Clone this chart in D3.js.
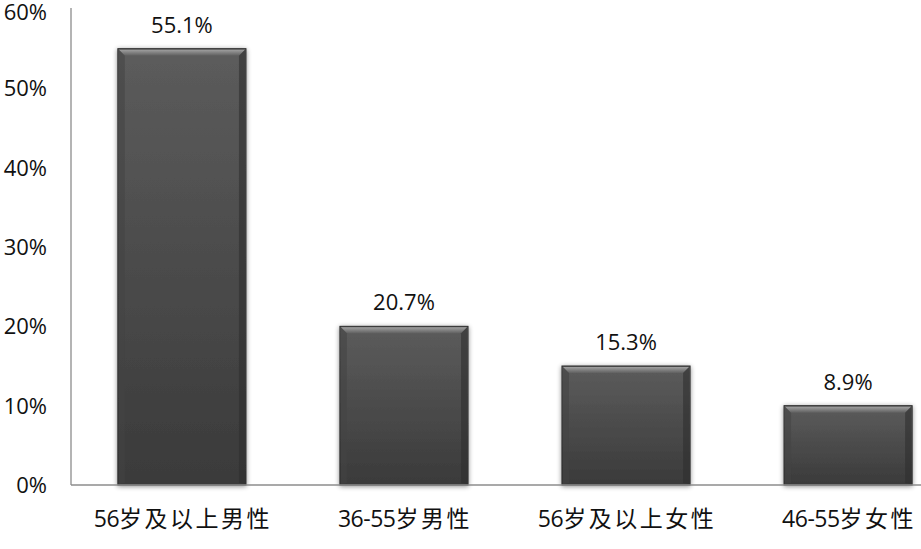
<!doctype html>
<html>
<head>
<meta charset="utf-8">
<title>Bar chart</title>
<style>
    html, body { margin: 0; padding: 0; background: #fff; }
    svg { display: block; }
    text { font-family: "Open Sans", "Noto Sans CJK SC", sans-serif; fill: #111; }
</style>
</head>
<body>
<script src="https://d3js.org/d3.v7.min.js"></script>
<script>

    // --- data ---
    var categories = ['56岁及以上男性', '36-55岁男性', '56岁及以上女性', '46-55岁女性'];
    var barHeights = [55, 20, 15, 10];              // drawn height of each bar (%)
    var valueLabels = ['55.1%', '20.7%', '15.3%', '8.9%'];
    var yTicks = [0, 10, 20, 30, 40, 50, 60];

    var width = 921, height = 549;

    var svg = d3.select('body').append('svg')
        .attr('width', width)
        .attr('height', height);

    var x = d3.scaleBand().domain(categories).range([71, 959]).paddingInner(0.423).paddingOuter(0.211);
    var y = d3.scaleLinear().domain([0, 60]).range([485, 9]);

    var defs = svg.append('defs');

    var body = defs.append('linearGradient').attr('id', 'barFill')
        .attr('x1', 0).attr('y1', 0).attr('x2', 0).attr('y2', 1);
    body.append('stop').attr('offset', '0%').attr('stop-color', '#5c5c5c');
    body.append('stop').attr('offset', '100%').attr('stop-color', '#3a3a3a');

    var topBevel = defs.append('linearGradient').attr('id', 'topBevel')
        .attr('x1', 0).attr('y1', 0).attr('x2', 0).attr('y2', 1);
    topBevel.append('stop').attr('offset', '0%').attr('stop-color', '#a0a0a0');
    topBevel.append('stop').attr('offset', '100%').attr('stop-color', '#606060');

    var shadow = defs.append('filter').attr('id', 'shadow')
        .attr('x', '-10%').attr('y', '-10%').attr('width', '120%').attr('height', '120%');
    shadow.append('feGaussianBlur').attr('in', 'SourceAlpha').attr('stdDeviation', 2.5).attr('result', 'b');
    shadow.append('feOffset').attr('in', 'b').attr('dx', 0).attr('dy', 1).attr('result', 'o');
    shadow.append('feComponentTransfer').attr('in', 'o').attr('result', 's')
        .append('feFuncA').attr('type', 'linear').attr('slope', 0.45);
    var merge = shadow.append('feMerge');
    merge.append('feMergeNode').attr('in', 's');
    merge.append('feMergeNode').attr('in', 'SourceGraphic');

    // y axis line (no tick marks)
    svg.append('line')
        .attr('x1', 71).attr('x2', 71)
        .attr('y1', y(60) - 1).attr('y2', y(0))
        .attr('stroke', '#8c8c8c').attr('stroke-width', 1.3);

    // y tick labels
    svg.selectAll('.ytick').data(yTicks).enter()
        .append('text')
        .attr('class', 'ytick')
        .attr('x', 47)
        .attr('y', function(d){ return Math.max(y(d), 12); })
        .attr('dy', '0.36em')
        .attr('text-anchor', 'end')
        .style('font-size', '22px')
        .text(function(d){ return d + '%'; });

    // bars
    var g = svg.selectAll('.bar').data(categories).enter()
        .append('g').attr('class', 'bar');

    g.each(function(d, i){
        var sel = d3.select(this);
        var x0 = x(d), x1 = x(d) + x.bandwidth();
        var y0 = y(barHeights[i]), y1 = y(0);
        var b = 7;

        sel.append('rect')
            .attr('x', x0).attr('y', y0)
            .attr('width', x1 - x0).attr('height', y1 - y0)
            .attr('fill', 'url(#barFill)')
            .attr('stroke', '#2e2e2e').attr('stroke-width', 1)
            .attr('filter', 'url(#shadow)');

        // top bevel
        sel.append('path')
            .attr('d', 'M' + (x0 + 1) + ',' + (y0 + 1) + 'L' + (x1 - 1) + ',' + (y0 + 1) +
                'L' + (x1 - b) + ',' + (y0 + b) + 'L' + (x0 + b) + ',' + (y0 + b) + 'Z')
            .attr('fill', 'url(#topBevel)');
        // left / right bevels
        sel.append('path')
            .attr('d', 'M' + (x0 + 1) + ',' + (y0 + 1) + 'L' + (x0 + b) + ',' + (y0 + b) +
                'L' + (x0 + b) + ',' + (y1 - 2) + 'L' + (x0 + 1) + ',' + (y1 - 1) + 'Z')
            .attr('fill', '#444').attr('opacity', 0.55);
        sel.append('path')
            .attr('d', 'M' + (x1 - 1) + ',' + (y0 + 1) + 'L' + (x1 - b) + ',' + (y0 + b) +
                'L' + (x1 - b) + ',' + (y1 - 2) + 'L' + (x1 - 1) + ',' + (y1 - 1) + 'Z')
            .attr('fill', '#2f2f2f').attr('opacity', 0.6);

        // value label
        sel.append('text')
            .attr('x', (x0 + x1) / 2)
            .attr('y', y0 - 24)
            .attr('text-anchor', 'middle')
            .attr('dy', '0.36em')
            .style('font-size', '22px')
            .text(valueLabels[i]);
    });

    // x axis line on top of bars
    svg.append('line')
        .attr('x1', 71).attr('x2', width)
        .attr('y1', y(0)).attr('y2', y(0))
        .attr('stroke', '#8c8c8c').attr('stroke-width', 1.3);

    // category labels (CJK glyphs get a little extra spacing, digits none)
    var xl = svg.selectAll('.xlab').data(categories).enter()
        .append('text')
        .attr('class', 'xlab')
        .attr('x', function(d){ return x(d) + x.bandwidth() / 2 + 1; })
        .attr('y', 519)
        .attr('dy', '0.36em')
        .attr('text-anchor', 'middle')
        .style('font-size', '23px');

    xl.each(function(d){
        var t = d3.select(this);
        Array.from(d).forEach(function(ch){
            t.append('tspan')
                .style('letter-spacing', /[\u4e00-\u9fff]/.test(ch) ? '2.5px' : '-0.5px')
                .text(ch);
        });
    });

</script>
</body>
</html>
